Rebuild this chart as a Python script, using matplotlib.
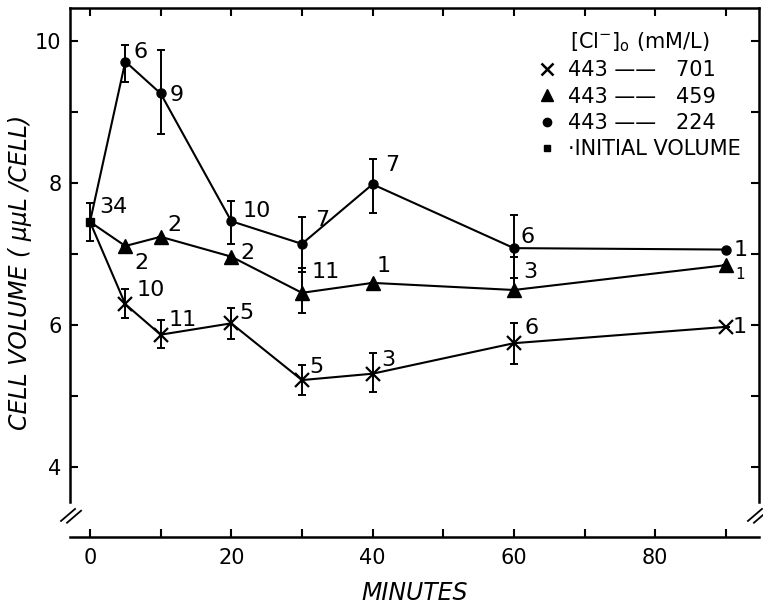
import matplotlib
matplotlib.use("Agg")
import matplotlib.pyplot as plt
from matplotlib.lines import Line2D
from matplotlib.ticker import MultipleLocator

plt.rcParams['font.family'] = ['DejaVu Sans']

# --- data ---
initial_time = 0
initial_vol = 7.45
initial_err = 0.27
initial_n = "34"

minutes = [5, 10, 20, 30, 40, 60, 90]

# 443 -> 224 mM/L (circles)
circ_vol = [9.71, 9.26, 7.46, 7.14, 7.98, 7.08, 7.06]
circ_lo = [0.29, 0.57, 0.32, 0.40, 0.41, 0.42, 0.0]
circ_hi = [0.23, 0.61, 0.29, 0.38, 0.36, 0.47, 0.0]
circ_n = ["6", "9", "10", "7", "7", "6", "1"]

# 443 -> 459 mM/L (triangles)
tri_vol = [7.11, 7.24, 6.96, 6.45, 6.59, 6.49, 6.84]
tri_lo = [0.0, 0.0, 0.0, 0.29, 0.0, 0.0, 0.0]
tri_hi = [0.0, 0.0, 0.0, 0.35, 0.0, 0.47, 0.0]
tri_n = ["2", "2", "2", "11", "1", "3", "1"]

# 443 -> 701 mM/L (crosses)
x_vol = [6.29, 5.86, 6.02, 5.22, 5.31, 5.74, 5.97]
x_lo = [0.19, 0.19, 0.22, 0.21, 0.26, 0.29, 0.0]
x_hi = [0.21, 0.20, 0.22, 0.21, 0.29, 0.29, 0.0]
x_n = ["10", "11", "5", "5", "3", "6", "1"]

# label offsets in pixels (dx, dy)
circ_off = [(8, 10), (9, -2), (11, 10), (13, 24), (13, 19), (7, 11), (8, 0)]
tri_off = [(9, -17), (7, 12), (9, 4), (10, 21), (4, 17), (9, 18), (10, -9)]
x_off = [(11, 14), (8, 15), (8, 10), (7, 13), (9, 14), (11, 15), (7, 0)]

fig = plt.figure(figsize=(7.63, 6.04), dpi=100)
ax = fig.add_axes([70 / 763, 1 - 537 / 604, 689 / 763, 529 / 604])

lw = 1.5
series = [
    (circ_vol, circ_lo, circ_hi, circ_n, circ_off, dict(marker='o', ms=6.5)),
    (tri_vol, tri_lo, tri_hi, tri_n, tri_off, dict(marker='^', ms=10)),
    (x_vol, x_lo, x_hi, x_n, x_off, dict(marker='x', ms=10, mew=1.6)),
]

for vol, lo, hi, nlab, off, mstyle in series:
    ax.plot([initial_time] + minutes, [initial_vol] + vol, color='black', lw=lw, zorder=2)
    ax.plot(minutes, vol, ls='none', color='black', zorder=3, **mstyle)
    ax.errorbar(minutes, vol, yerr=[lo, hi], fmt='none', ecolor='black',
                elinewidth=1.4, capsize=3.2, capthick=1.4, zorder=2)
    for t, v, s, (dx, dy) in zip(minutes, vol, nlab, off):
        fs = 11 if (t == 90 and s == "1" and dy < 0) else 16
        ax.annotate(s, (t, v), xytext=(dx, dy), textcoords='offset pixels',
                    ha='left', va='center', fontsize=fs)

# initial volume point
ax.errorbar([initial_time], [initial_vol], yerr=[initial_err], fmt='s', ms=6,
            color='black', elinewidth=1.4, capsize=3.2, capthick=1.4, zorder=4)
ax.annotate(initial_n, (initial_time, initial_vol), xytext=(9, 15),
            textcoords='offset pixels', ha='left', va='center', fontsize=16)

# axes styling
ax.set_xlim(-2.83, 94.7)
ax.set_ylim(3.008, 10.465)
ax.xaxis.set_major_locator(MultipleLocator(20))
ax.xaxis.set_minor_locator(MultipleLocator(10))
ax.yaxis.set_major_locator(MultipleLocator(2))
ax.yaxis.set_minor_locator(MultipleLocator(1))
ax.tick_params(which='both', direction='in', length=6, width=1.5,
               top=True, right=True, labelsize=15)
ax.tick_params(axis='y', pad=6)
ax.tick_params(axis='x', pad=8)
ax.set_yticks([4, 6, 8, 10])
ax.set_xticks([0, 20, 40, 60, 80])

for side in ['left', 'right', 'top', 'bottom']:
    ax.spines[side].set_linewidth(1.8)
ax.spines['left'].set_bounds(3.5, 10.465)
ax.spines['right'].set_bounds(3.5, 10.465)

# axis break marks
def break_mark(xc, yc):
    for sh in (-3.0, 3.0):
        x0 = xc + (sh - 7) / 689
        x1 = xc + (sh + 7) / 689
        y0 = yc + (-6 - sh * 0.3) / 529
        y1 = yc + (6 - sh * 0.3) / 529
        ax.plot([x0, x1], [y0, y1], transform=ax.transAxes, color='black',
                lw=1.3, clip_on=False)

break_mark(0.0015, 0.040)
break_mark(0.9985, 0.040)

ax.set_xlabel("MINUTES", fontsize=17, style='italic', labelpad=9)
ax.set_ylabel("CELL VOLUME ( \u03bc\u03bcL /CELL)", fontsize=17, style='italic', labelpad=2)

# legend
handles = [
    Line2D([], [], ls='none', marker='x', ms=9, mew=1.8, color='black'),
    Line2D([], [], ls='none', marker='^', ms=9, color='black'),
    Line2D([], [], ls='none', marker='o', ms=6, color='black'),
    Line2D([], [], ls='none', marker='s', ms=5, color='black'),
]
labels = ["443 \u2014\u2014   701", "443 \u2014\u2014   459", "443 \u2014\u2014   224", "\u00b7INITIAL VOLUME"]
leg = ax.legend(handles, labels, loc='upper right', bbox_to_anchor=(0.995, 0.985),
                frameon=False, fontsize=15, handlelength=0.8, handletextpad=0.6,
                labelspacing=0.3, borderpad=0.2,
                title=r"[Cl$^{-}$]$_{\rm o}$ (mM/L)", title_fontsize=15)

fig.savefig("out.png", dpi=100)
